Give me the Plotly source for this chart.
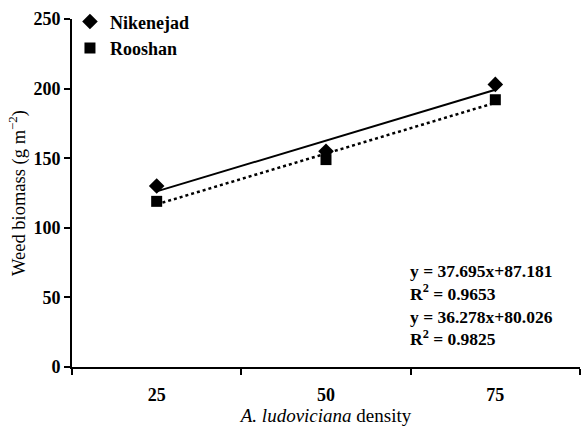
import numpy as np
import plotly.graph_objects as go

categories = ["25", "50", "75"]
nikenejad = [130, 155, 203]
rooshan = [119, 149, 192]
eq_text = ["y = 37.695x+87.181", "R<sup>2</sup> = 0.9653",
           "y = 36.278x+80.026", "R<sup>2</sup> = 0.9825"]
yticks = [0, 50, 100, 150, 200, 250]

FONT = "Liberation Serif"
xi = np.arange(1, len(categories) + 1)

def fit(vals):
    m, b = np.polyfit(xi, vals, 1)
    return list(m * xi + b)

fig = go.Figure()
fig.add_trace(go.Scatter(x=categories, y=fit(nikenejad), mode="lines",
                         line=dict(color="black", width=2), showlegend=False, hoverinfo="skip"))
fig.add_trace(go.Scatter(x=categories, y=fit(rooshan), mode="lines",
                         line=dict(color="black", width=2.5, dash="dot"), showlegend=False, hoverinfo="skip"))
fig.add_trace(go.Scatter(x=categories, y=nikenejad, mode="markers", name="<b>Nikenejad</b>",
                         marker=dict(symbol="diamond", size=12, color="black")))
fig.add_trace(go.Scatter(x=categories, y=rooshan, mode="markers", name="<b>Rooshan</b>",
                         marker=dict(symbol="square", size=11, color="black")))

fig.add_annotation(xref="paper", yref="paper", x=0.661, y=0.178, xanchor="left", yanchor="middle",
                   text="<br>".join("<b>%s</b>" % t for t in eq_text), showarrow=False, align="left",
                   font=dict(family=FONT, size=17.5, color="black"))

fig.update_layout(
    template="none",
    width=582, height=432, margin=dict(l=72, r=2, t=19, b=65),
    paper_bgcolor="white", plot_bgcolor="white",
    font=dict(family=FONT, color="black", size=18),
    legend=dict(x=-0.004, y=1.045, xanchor="left", yanchor="top", bgcolor="rgba(0,0,0,0)",
                font=dict(family=FONT, size=18, color="black"), itemwidth=30, tracegroupgap=0),
    showlegend=True,
)
fig.update_xaxes(type="category", range=[-0.5, 2.5], tickson="boundaries", ticks="outside",
                 ticklen=6, tickwidth=2, tickcolor="black", showline=True, linecolor="black", linewidth=2,
                 showgrid=False, zeroline=False, ticklabelstandoff=10,
                 tickfont=dict(family=FONT, size=18, weight="bold", color="black"),
                 title=dict(text="<i>A. ludoviciana</i> density", font=dict(family=FONT, size=19, color="black"), standoff=4))
fig.update_yaxes(range=[0, 250], tickvals=yticks, ticks="outside", ticklen=6, tickwidth=2, tickcolor="black",
                 showline=True, linecolor="black", linewidth=2, showgrid=False, zeroline=False,
                 tickfont=dict(family=FONT, size=18, weight="bold", color="black"),
                 title=dict(text="Weed biomass (g m<sup>−2</sup>)", font=dict(family=FONT, size=18.5, color="black"), standoff=3))

fig.write_html("out.html")
